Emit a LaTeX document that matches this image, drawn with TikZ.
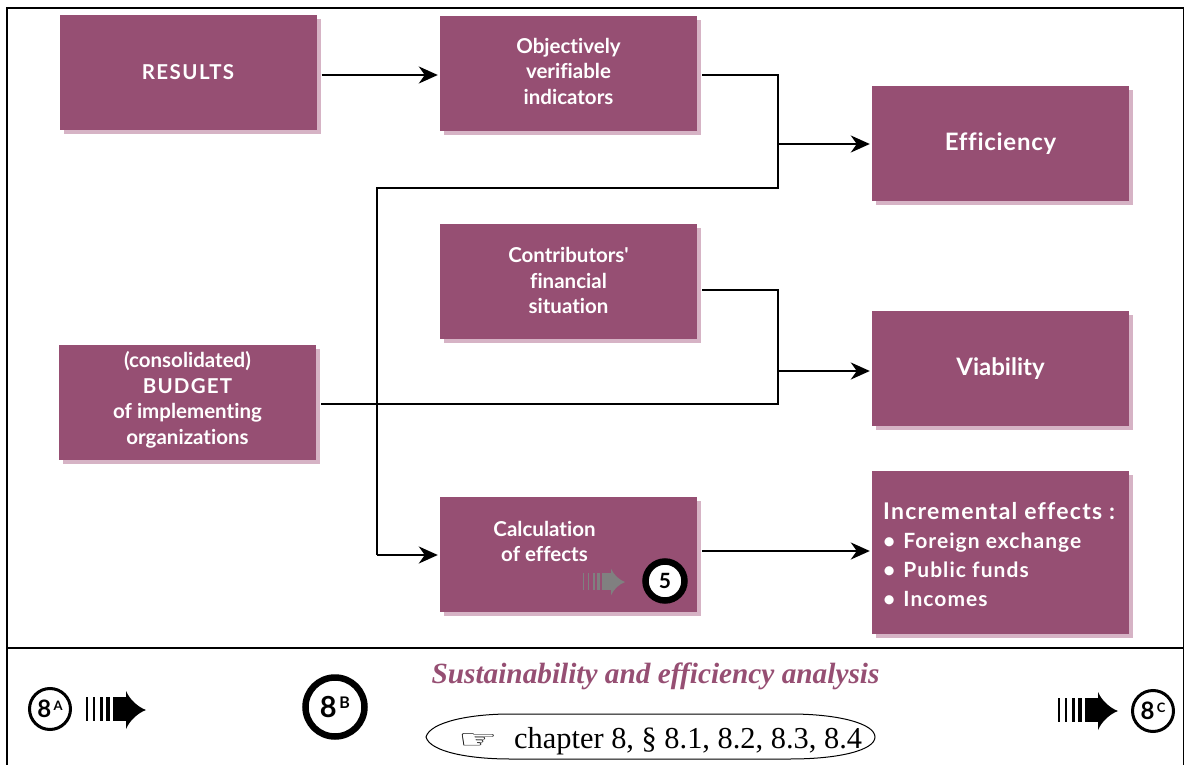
\documentclass[tikz,border=0pt]{standalone}
\usepackage{fontspec}
\setmainfont{Liberation Serif}
\newfontfamily\boxfont{Lato}[BoldFont=Lato Bold,Ligatures=NoCommon]
\newfontfamily\handfont{DejaVu Sans}
\usetikzlibrary{arrows.meta,shadows,calc}
\definecolor{plum}{HTML}{964F73}
\definecolor{plumshade}{HTML}{D6B3C5}
\newcommand{\stripedarrow}[3]{%
  \begin{scope}[shift={(#1)},scale=#2,fill=#3,draw=none]
    \fill (0,-13) rectangle (1.6,11);
    \fill (7,-13) rectangle (9,11);
    \fill (14,-13) rectangle (17,11);
    \fill (20,-13) rectangle (24,11);
    \fill (27,-13) rectangle (40,11);
    \fill (40,-13) -- (40,-19) .. controls (44,-10) and (52,-3) .. (60,0) .. controls (52,3) and (44,10) .. (40,19) -- (40,11) -- cycle;
  \end{scope}}
\tikzset{
  x=1pt,y=-1pt,
  plumbox/.style={fill=plum,text=white,font=\boxfont\bfseries\fontsize{20.5}{25.5}\selectfont,
    minimum width=257pt,minimum height=115pt,align=center,inner sep=0pt,
    drop shadow={shadow xshift=4pt,shadow yshift=-4pt,fill=plumshade,opacity=1}},
  boxtext/.style={font=\boxfont\bfseries\fontsize{20.5}{25.5}\selectfont,text=white,align=center,inner sep=0pt},
  conn/.style={draw=black,line width=2.4pt,-{Stealth[length=19pt,width=17pt,inset=6pt]}},
  plainline/.style={draw=black,line width=2.4pt},
  framerule/.style={draw=black,line width=1.2pt},
  roundel/.style={circle,draw=black,fill=white,inner sep=0pt,text=black,font=\boxfont\bfseries},
}
\begin{document}
\begin{tikzpicture}
\useasboundingbox (0,0) rectangle (1184,765);
\fill[white] (0,0) rectangle (1184,765);
% frame
\coordinate (fTL) at (7,8); \coordinate (fTR) at (1183.4,8);
\coordinate (fBL) at (7,765); \coordinate (fBR) at (1183.4,765);
\coordinate (fML) at (7,648); \coordinate (fMR) at (1183.4,648);
\draw[framerule] (fBL) -- (fTL) -- (fTR) -- (fBR);
\draw[framerule] (fML) -- (fMR);
% boxes
\node[plumbox] (results) at (188,73) {\raisebox{2pt}{\addfontfeature{LetterSpace=7}RESULTS}};
\node[plumbox] (indic) at (568.5,73.5) {};
\node[boxtext] (indictxt) at (568.5,71) {Objectively\\verifiable\\indicators};
\node[plumbox] (effic) at (1000.5,143.5) {\fontsize{24}{28}\selectfont{\addfontfeature{LetterSpace=3}Efficiency}};
\node[plumbox] (contrib) at (568.5,281.5) {};
\node[boxtext] (contribtxt) at (568.5,280.5) {Contributors'\\financial\\situation};
\node[plumbox] (viab) at (1000.5,368.5) {\fontsize{24}{28}\selectfont\raisebox{-1pt}{Viability}};
\node[plumbox] (budget) at (187.5,402.5) {};
\node[boxtext] (budgettxt) at (187.5,400) {(consolidated)\\{\addfontfeature{LetterSpace=6}BUDGET}\\of implementing\\organizations};
\node[plumbox] (calc) at (568.5,554.5) {};
\node[plumbox,minimum height=163pt] (incr) at (1000.5,552.5) {};
\node[boxtext] (calctxt) at (544.5,541.5) {Calculation\\of effects};
\node[font=\boxfont\bfseries\fontsize{23}{29}\selectfont,text=white,anchor=north west,inner sep=0pt] (incrhead) at (883,502.5)
  {\addfontfeature{LetterSpace=5.5}Incremental effects :};
\node[font=\boxfont\bfseries\fontsize{21}{29}\selectfont,text=white,align=left,anchor=north west,inner sep=0pt] (incrtxt) at (883,533)
  {{\addfontfeature{LetterSpace=5}•\hspace{8pt}Foreign exchange}\\
   {\addfontfeature{LetterSpace=5}•\hspace{8pt}Public funds}\\
   {\addfontfeature{LetterSpace=5}•\hspace{8pt}Incomes}};
% junctions
\coordinate (j1) at (778,75);
\coordinate (j2) at (778,188);
\coordinate (j3) at (377,188);
\coordinate (j4) at (377,555);
\coordinate (j5) at (778,144);
\coordinate (j6) at (778,290);
\coordinate (j7) at (778,404);
\coordinate (j8) at (778,371);
\coordinate (j9) at (702,551);
% connectors
\draw[conn] ([xshift=5pt,yshift=-2pt]results.east) -- ([xshift=-2pt,yshift=-1.5pt]indic.west);
\draw[plainline,line join=miter] ([xshift=5pt]indic.east |- j1) -- (j1) -- (j2) -- (j3) -- (j4);
\draw[conn] (j4) -- ([xshift=-2pt]calc.west |- j4);
\draw[conn] (j5) -- ([xshift=-2pt]effic.west |- j5);
\draw[plainline] ([xshift=5pt]contrib.east |- j6) -- (j6) -- (j7) -- ([xshift=5pt]budget.east |- j7);
\draw[conn] (j8) -- ([xshift=-2pt]viab.west |- j8);
\draw[conn] (j9) -- ([xshift=-2pt]incr.west |- j9);
% calc box marker
\stripedarrow{583,582}{0.7}{black!50}
\node[roundel,line width=6.5pt,minimum size=39pt,font=\boxfont\bfseries\fontsize{21}{24}\selectfont] (five) at (665,581) {5};
% footer
\node[font=\bfseries\itshape\fontsize{29.3}{32}\selectfont,text=plum] (title) at (655.5,676) {Sustainability and efficiency analysis};
\node[font=\fontsize{30.4}{32}\selectfont,inner sep=0pt,anchor=base west] (ref) at (514,748) {chapter 8, § 8.1, 8.2, 8.3, 8.4};
\node[font=\handfont\fontsize{42}{44}\selectfont,inner sep=0pt] (hand) at (478,741) {\scalebox{1.05}[0.62]{☞}};
\coordinate (eL) at (426,737); \coordinate (eT1) at (510,714); \coordinate (eT2) at (790,714);
\coordinate (eR) at (875,737); \coordinate (eB2) at (790,759); \coordinate (eB1) at (510,759);
\draw[line width=1pt] (eL) .. controls (430,722) and (470,714) .. (eT1) -- (eT2)
  .. controls (840,714) and (875,724) .. (eR) .. controls (875,750) and (840,759) .. (eB2)
  -- (eB1) .. controls (470,759) and (430,752) .. (eL) -- cycle;
\node[roundel,line width=3pt,minimum size=41pt,font=\boxfont\bfseries\fontsize{24}{26}\selectfont] (a8) at (50,709) {8\raisebox{7pt}{\fontsize{13}{14}\selectfont\,A}};
\stripedarrow{86,710}{1}{black}
\node[roundel,line width=6.5pt,minimum size=59pt,font=\boxfont\bfseries\fontsize{29}{30}\selectfont] (b8) at (335,707) {8\raisebox{9pt}{\fontsize{16}{18}\selectfont\,B}};
\stripedarrow{1058,711}{1}{black}
\node[roundel,line width=3pt,minimum size=41pt,font=\boxfont\bfseries\fontsize{24}{26}\selectfont] (c8) at (1153,711) {8\raisebox{7pt}{\fontsize{13}{14}\selectfont\,C}};
\end{tikzpicture}
\end{document}
